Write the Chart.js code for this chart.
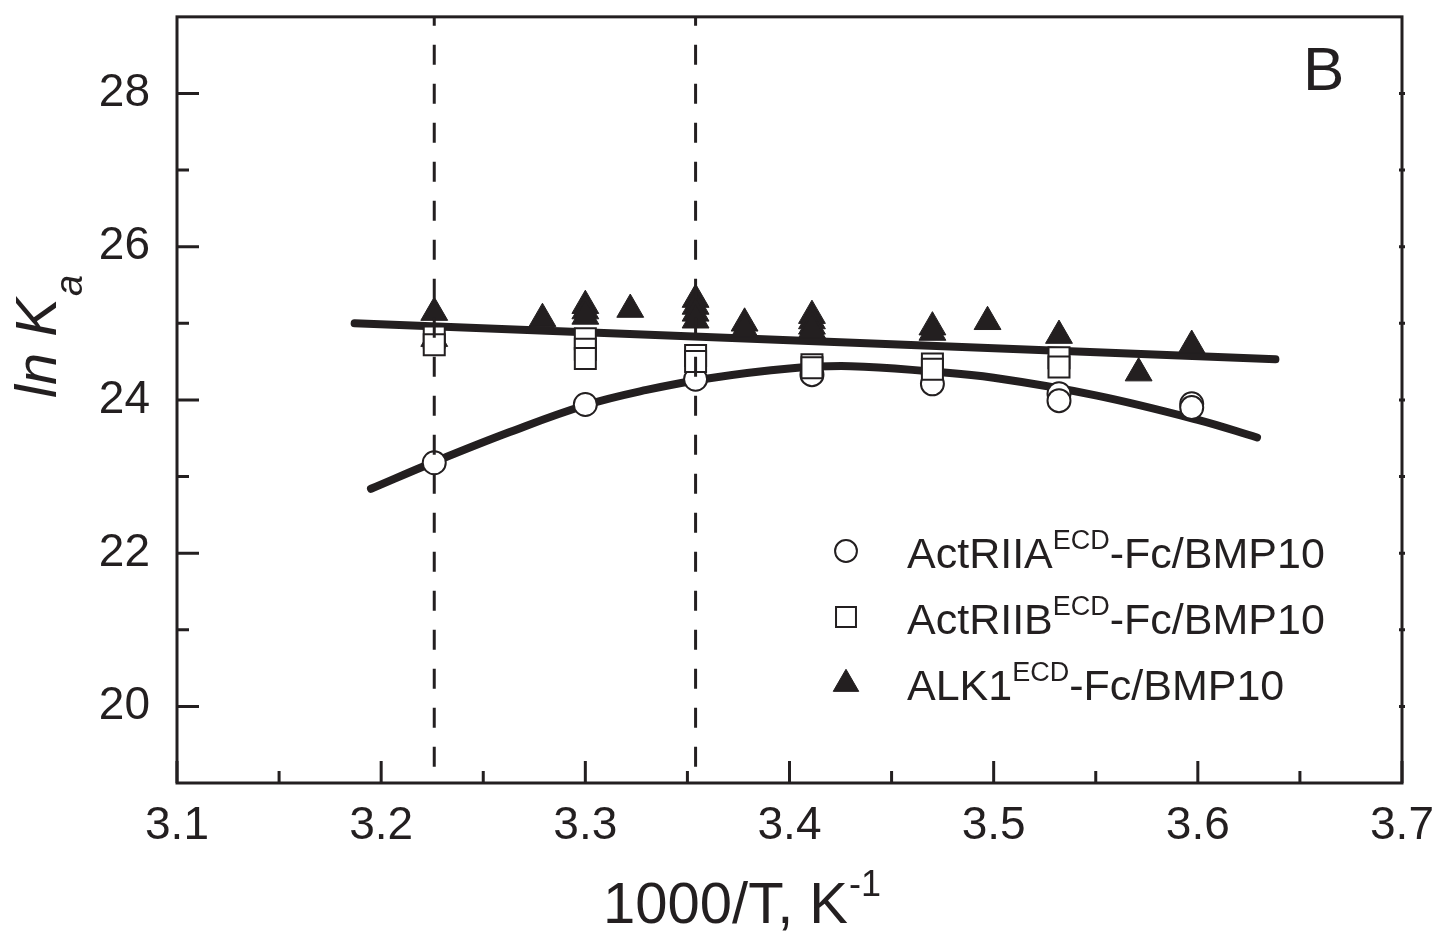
<!DOCTYPE html>
<html>
<head>
<meta charset="utf-8">
<script src="https://cdn.jsdelivr.net/npm/chart.js@4.4.1/dist/chart.umd.min.js"></script>
<style>
  html, body { margin: 0; padding: 0; background: #fff; }
  #wrap { width: 1441px; height: 932px; }
</style>
</head>
<body>
<div id="wrap"><canvas id="lnkChart" width="1441" height="932"></canvas></div>
<script>
// ln Ka vs 1000/T, panel B
const INK = '#231f20';
const FONT = '"Liberation Sans", Arial, Helvetica, sans-serif';

// ActRIIA(ECD)-Fc/BMP10, open circles
const actRIIA_x = [3.226, 3.300, 3.354, 3.411, 3.470, 3.532, 3.532, 3.597, 3.597];
const actRIIA_y = [23.18, 23.94, 24.27, 24.33, 24.21, 24.08, 23.99, 23.95, 23.90];

// ActRIIB(ECD)-Fc/BMP10, open squares
const actRIIB_x = [3.226, 3.226, 3.300, 3.300, 3.300, 3.354, 3.354, 3.411, 3.411, 3.470, 3.470, 3.532, 3.532];
const actRIIB_y = [24.82, 24.72, 24.80, 24.66, 24.54, 24.58, 24.50, 24.46, 24.42, 24.47, 24.40, 24.55, 24.43];

// ALK1(ECD)-Fc/BMP10, filled triangles
const alk1_x = [3.226, 3.226, 3.279, 3.300, 3.300, 3.300, 3.322, 3.354, 3.354, 3.354, 3.354, 3.378, 3.378,
                3.411, 3.411, 3.411, 3.411, 3.470, 3.470, 3.497, 3.532, 3.571, 3.597];
const alk1_y = [25.14, 24.80, 25.06, 25.23, 25.16, 25.09, 25.18, 25.31, 25.22, 25.13, 25.04, 25.00, 24.92,
                25.10, 25.03, 24.96, 24.91, 24.95, 24.88, 25.02, 24.84, 24.35, 24.71];

// fitted lines
const alk1Fit_x = [3.187, 3.638];
const alk1Fit_y = [25.00, 24.53];
const actRIIAFit_x = [3.195, 3.226, 3.263, 3.300, 3.330, 3.360, 3.400, 3.430, 3.470, 3.500, 3.550, 3.600, 3.629];
const actRIIAFit_y = [22.84, 23.19, 23.58, 23.93, 24.13, 24.28, 24.41, 24.44, 24.37, 24.29, 24.06, 23.74, 23.51];

// vertical guides (37 C and 25 C)
const guideX = [3.226, 3.354];

// axes
const xRange = [3.1, 3.7];
const yRange = [19, 29];
const xMajor = [3.1, 3.2, 3.3, 3.4, 3.5, 3.6, 3.7];
const xMinor = [3.15, 3.25, 3.35, 3.45, 3.55, 3.65];
const yMajor = [20, 22, 24, 26, 28];
const yMinor = [21, 23, 25, 27];
const yRightNubs = [20, 21, 22, 23, 24, 25, 26, 27, 28];

const legendItems = [
  { name: 'ActRIIA', sup: 'ECD', rest: '-Fc/BMP10', style: 'circle' },
  { name: 'ActRIIB', sup: 'ECD', rest: '-Fc/BMP10', style: 'rect' },
  { name: 'ALK1',    sup: 'ECD', rest: '-Fc/BMP10', style: 'triangle' }
];

const toPts = (xs, ys) => xs.map((x, i) => ({ x, y: ys[i] }));

const markerStyle = {
  circle:   { pointStyle: 'circle',   radius: 11.5,  fill: '#fff', border: 2 },
  rect:     { pointStyle: 'rect',     radius: 14.85, fill: '#fff', border: 2 },
  triangle: { pointStyle: 'triangle', radius: 15.5,  fill: INK,    border: 1 }
};

const scatterSet = (label, xs, ys, key, order) => {
  const m = markerStyle[key];
  return {
    label,
    data: toPts(xs, ys),
    showLine: false,
    pointStyle: m.pointStyle,
    pointRadius: m.radius,
    pointBackgroundColor: m.fill,
    pointBorderColor: INK,
    pointBorderWidth: m.border,
    order
  };
};

const lineSet = (label, xs, ys, opts) => Object.assign({
  label,
  data: toPts(xs, ys),
  showLine: true,
  pointRadius: 0,
  borderColor: INK,
  backgroundColor: INK,
  fill: false
}, opts);

const datasets = [];
guideX.forEach((gx, i) => {
  datasets.push(lineSet('guide' + i, [gx, gx], [yRange[1], yRange[0]], {
    borderWidth: 3, borderDash: [20, 19], borderDashOffset: 11, order: 0
  }));
});
datasets.push(scatterSet('ActRIIB', actRIIB_x, actRIIB_y, 'rect', 1));
datasets.push(scatterSet('ActRIIA', actRIIA_x, actRIIA_y, 'circle', 2));
datasets.push(scatterSet('ALK1', alk1_x, alk1_y, 'triangle', 3));
datasets.push(lineSet('ALK1 fit', alk1Fit_x, alk1Fit_y, { borderWidth: 8, borderCapStyle: 'round', order: 4 }));
datasets.push(lineSet('ActRIIA fit', actRIIAFit_x, actRIIAFit_y, { borderWidth: 8, borderCapStyle: 'round', tension: 0.4, order: 4 }));

// frame, inward ticks, titles, legend
const decor = {
  id: 'decor',
  afterDraw(chart){
    const ctx = chart.ctx;
    const a = chart.chartArea;
    const xs = chart.scales.x, ys = chart.scales.y;
    ctx.save();
    ctx.strokeStyle = INK;
    ctx.fillStyle = INK;
    ctx.lineWidth = 3;
    ctx.lineCap = 'butt';
    ctx.strokeRect(a.left, a.top, a.right - a.left, a.bottom - a.top);

    ctx.beginPath();
    xMajor.forEach(v => { const p = xs.getPixelForValue(v); ctx.moveTo(p, a.bottom); ctx.lineTo(p, a.bottom - 22); });
    xMinor.forEach(v => { const p = xs.getPixelForValue(v); ctx.moveTo(p, a.bottom); ctx.lineTo(p, a.bottom - 12); });
    yMajor.forEach(v => { const p = ys.getPixelForValue(v); ctx.moveTo(a.left, p); ctx.lineTo(a.left + 22, p); });
    yMinor.forEach(v => { const p = ys.getPixelForValue(v); ctx.moveTo(a.left, p); ctx.lineTo(a.left + 12, p); });
    yRightNubs.forEach(v => { const p = ys.getPixelForValue(v); ctx.moveTo(a.right - 3, p); ctx.lineTo(a.right + 3, p); });
    ctx.stroke();

    ctx.textBaseline = 'alphabetic';
    ctx.textAlign = 'left';

    // x title
    ctx.font = '58px ' + FONT;
    const xt = '1000/T, K';
    ctx.fillText(xt, 603, 923);
    const xw = ctx.measureText(xt).width;
    ctx.font = '36px ' + FONT;
    ctx.fillText('-1', 603 + xw + 1, 896);

    // y title (rotated)
    ctx.save();
    ctx.translate(56, 398);
    ctx.rotate(-Math.PI / 2);
    ctx.font = 'italic 58px ' + FONT;
    const yt = 'ln K';
    ctx.fillText(yt, 0, 0);
    const yw = ctx.measureText(yt).width;
    ctx.font = 'italic 38px ' + FONT;
    ctx.fillText('a', yw + 2, 26);
    ctx.restore();

    // panel letter
    ctx.font = '62px ' + FONT;
    ctx.fillText('B', 1303, 90);

    // legend
    const rows = [568, 634, 700];
    const markY = [551, 617, 684];
    legendItems.forEach((it, i) => {
      const m = markerStyle[it.style];
      ctx.fillStyle = m.fill;
      ctx.strokeStyle = INK;
      ctx.lineWidth = m.border;
      Chart.helpers.drawPoint(ctx, { pointStyle: m.pointStyle, radius: m.radius * 0.95, borderWidth: m.border, rotation: 0 }, 846, markY[i]);
      ctx.fillStyle = INK;
      let x = 907;
      ctx.font = '43px ' + FONT;
      ctx.fillText(it.name, x, rows[i]);
      x += ctx.measureText(it.name).width;
      ctx.font = '27px ' + FONT;
      ctx.fillText(it.sup, x, rows[i] - 19);
      x += ctx.measureText(it.sup).width;
      ctx.font = '43px ' + FONT;
      ctx.fillText(it.rest, x, rows[i]);
    });
    ctx.restore();
  }
};

new Chart(document.getElementById('lnkChart'), {
  type: 'scatter',
  data: { datasets },
  options: {
    responsive: false,
    animation: false,
    events: [],
    layout: { padding: { top: 13, right: 39, bottom: 0, left: 0 } },
    plugins: { legend: { display: false }, tooltip: { enabled: false } },
    scales: {
      x: {
        type: 'linear',
        min: xRange[0], max: xRange[1],
        afterBuildTicks: s => { s.ticks = xMajor.map(v => ({ value: v })); },
        afterFit: s => { s.height = 149; s.paddingLeft = 0; s.paddingRight = 0; },
        grid: { display: false, drawTicks: false },
        border: { display: false },
        ticks: {
          color: INK, padding: 16, maxRotation: 0, autoSkip: false,
          font: { family: FONT, size: 46 },
          callback: v => Number(v).toFixed(1)
        }
      },
      y: {
        type: 'linear',
        min: yRange[0], max: yRange[1],
        afterBuildTicks: s => { s.ticks = yMajor.map(v => ({ value: v })); },
        afterFit: s => { s.width = 177; s.paddingTop = 0; s.paddingBottom = 0; },
        grid: { display: false, drawTicks: false },
        border: { display: false },
        ticks: {
          color: INK, padding: 27, autoSkip: false,
          font: { family: FONT, size: 46 },
          callback: v => String(v)
        }
      }
    }
  },
  plugins: [decor]
});
</script>
</body>
</html>
